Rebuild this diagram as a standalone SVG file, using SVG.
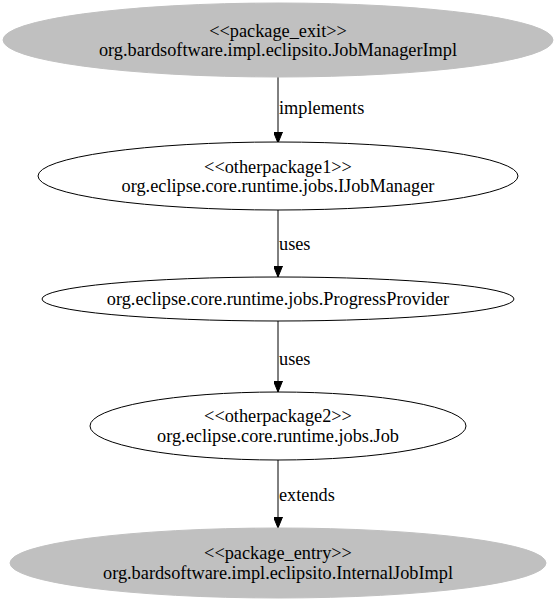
<svg xmlns="http://www.w3.org/2000/svg" width="557" height="603" viewBox="0 0 557 603">
<defs>
<marker id="ah" markerWidth="11" markerHeight="9" refX="11" refY="4.5" orient="auto" markerUnits="userSpaceOnUse">
<path d="M0,0 L11,4.5 L0,9 Z" fill="#000" stroke="#000" stroke-width="1"/>
</marker>
</defs>
<style>
text{font-family:"Liberation Serif","Times New Roman",serif;font-size:18.3px;fill:#000}
.c{text-anchor:middle}
.gray{fill:#c0c0c0;stroke:#c0c0c0}
.white{fill:#fff;stroke:#000}
.edge{stroke:#000;stroke-width:1;fill:none;marker-end:url(#ah)}
</style>
<rect width="557" height="603" fill="#fff"/>
<g id="connectors">
<line class="edge" x1="278" y1="77" x2="278" y2="143"/>
<text x="279" y="114">implements</text>
<line class="edge" x1="278" y1="210" x2="278" y2="277"/>
<text x="279" y="250">uses</text>
<line class="edge" x1="278" y1="321" x2="278" y2="392"/>
<text x="279" y="365">uses</text>
<line class="edge" x1="278" y1="460" x2="278" y2="528"/>
<text x="279" y="501">extends</text>
</g>
<g id="node1">
<ellipse class="gray" cx="278" cy="40" rx="275" ry="37"/>
<text class="c" x="278" y="37">&lt;&lt;package_exit&gt;&gt;</text>
<text class="c" x="278" y="56">org.bardsoftware.impl.eclipsito.JobManagerImpl</text>
</g>
<g id="node2">
<ellipse class="white" cx="278" cy="176" rx="240" ry="34"/>
<text class="c" x="278" y="173">&lt;&lt;otherpackage1&gt;&gt;</text>
<text class="c" x="278" y="192">org.eclipse.core.runtime.jobs.IJobManager</text>
</g>
<g id="node3">
<ellipse class="white" cx="278" cy="299" rx="236" ry="22"/>
<text class="c" x="278" y="305">org.eclipse.core.runtime.jobs.ProgressProvider</text>
</g>
<g id="node4">
<ellipse class="white" cx="278" cy="426" rx="188" ry="34"/>
<text class="c" x="278" y="422">&lt;&lt;otherpackage2&gt;&gt;</text>
<text class="c" x="278" y="442">org.eclipse.core.runtime.jobs.Job</text>
</g>
<g id="node5">
<ellipse class="gray" cx="278" cy="563" rx="268" ry="35"/>
<text class="c" x="278" y="559">&lt;&lt;package_entry&gt;&gt;</text>
<text class="c" x="278" y="579">org.bardsoftware.impl.eclipsito.InternalJobImpl</text>
</g>
</svg>
